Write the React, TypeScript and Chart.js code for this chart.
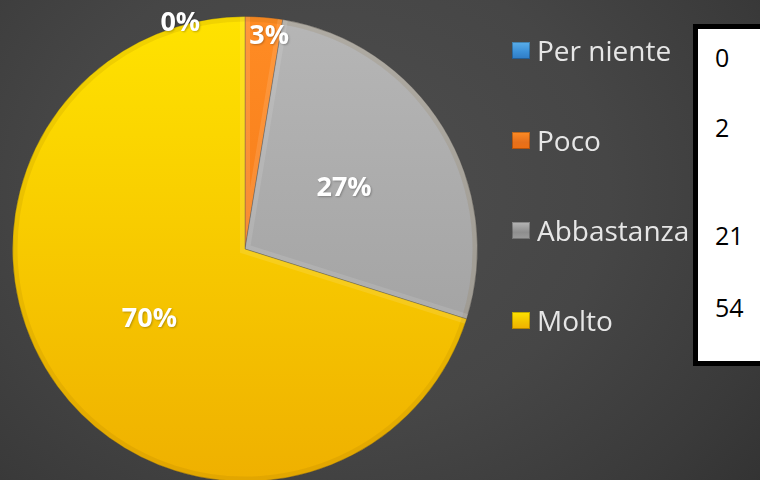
import React, { useEffect, useRef } from "react";
import { Chart, registerables } from "chart.js";

Chart.register(...registerables);

const categories = ["Per niente", "Poco", "Abbastanza", "Molto"];
const values = [0, 2, 21, 54];
const tableValues = ["0", "2", "21", "54"];

// styles
const topColors = ["#5AAEEA", "#FF8C24", "#B6B6B6", "#FFE300"];
const bottomColors = ["#2F7BC4", "#EE6F12", "#9B9B9B", "#EFB000"];
const legendColors = ["#3A8ED6", "#E5701C", "#8E8E8E", "#F2C200"];
const labelRadius = [1.01, 0.92, 0.5, 0.51];
const labelAngleShift = [-16, 1.8, 0, 0];

const percentLabels = {
  id: "percentLabels",
  afterDatasetsDraw(chart: any) {
    const ctx = chart.ctx;
    const meta = chart.getDatasetMeta(0);
    const data = chart.data.datasets[0].data as number[];
    const total = data.reduce((a, b) => a + b, 0);
    // bevel effect
    meta.data.forEach((arc: any) => {
      const { x, y, startAngle, endAngle, outerRadius } = arc.getProps(
        ["x", "y", "startAngle", "endAngle", "outerRadius"],
        true
      );
      if (endAngle - startAngle <= 0) return;
      ctx.save();
      ctx.beginPath();
      ctx.moveTo(x, y);
      ctx.arc(x, y, outerRadius, startAngle, endAngle);
      ctx.closePath();
      ctx.clip();
      ctx.beginPath();
      ctx.arc(x, y, outerRadius, startAngle, endAngle);
      ctx.lineWidth = 10;
      ctx.strokeStyle = "rgba(120,80,0,0.10)";
      ctx.stroke();
      ctx.beginPath();
      ctx.moveTo(x + Math.cos(startAngle) * outerRadius, y + Math.sin(startAngle) * outerRadius);
      ctx.lineTo(x, y);
      ctx.lineTo(x + Math.cos(endAngle) * outerRadius, y + Math.sin(endAngle) * outerRadius);
      ctx.lineWidth = 10;
      ctx.strokeStyle = "rgba(255,255,255,0.11)";
      ctx.stroke();
      ctx.restore();
    });
    ctx.save();
    ctx.font = "bold 27px 'Open Sans'";
    ctx.fillStyle = "#ffffff";
    ctx.textAlign = "center";
    ctx.textBaseline = "middle";
    meta.data.forEach((arc: any, i: number) => {
      const { x, y, startAngle, endAngle, outerRadius } = arc.getProps(
        ["x", "y", "startAngle", "endAngle", "outerRadius"],
        true
      );
      const mid = (startAngle + endAngle) / 2 + (labelAngleShift[i] * Math.PI) / 180;
      const r = outerRadius * labelRadius[i];
      const pct = Math.round((data[i] / total) * 100);
      ctx.shadowColor = "rgba(0,0,0,0.25)";
      ctx.shadowBlur = 2;
      ctx.shadowOffsetX = 1;
      ctx.shadowOffsetY = 1;
      ctx.fillText(pct + "%", x + Math.cos(mid) * r, y + Math.sin(mid) * r);
    });
    ctx.restore();
  },
};

export default function App() {
  const canvasRef = useRef<HTMLCanvasElement>(null);

  useEffect(() => {
    document.body.style.margin = "0";
    const canvas = canvasRef.current;
    if (!canvas) return;
    const grad = (c: any) => {
      const i = c.dataIndex ?? 0;
      const chart = c.chart;
      const area = chart.chartArea;
      if (!area) return topColors[i];
      const g = chart.ctx.createLinearGradient(0, area.top, 0, area.bottom);
      g.addColorStop(0, topColors[i]);
      g.addColorStop(1, bottomColors[i]);
      return g;
    };
    const chart = new Chart(canvas, {
      type: "pie",
      data: {
        labels: categories,
        datasets: [
          {
            data: values,
            backgroundColor: grad as any,
            borderColor: "rgba(60,60,60,0.35)",
            borderWidth: 1,
          },
        ],
      },
      options: {
        animation: false,
        responsive: false,
        layout: { padding: { left: 12, top: 16, right: 282, bottom: 18 } },
        plugins: {
          legend: { display: false },
          tooltip: { enabled: false },
        },
      },
      plugins: [percentLabels],
    });
    return () => chart.destroy();
  }, []);

  const legendY = [50, 140, 230, 320];
  const numberY = [57, 127, 235, 307];

  return (
    <div
      style={{
        position: "fixed",
        left: 0,
        top: 0,
        width: 760,
        height: 480,
        overflow: "hidden",
        background:
          "radial-gradient(ellipse 620px 520px at 330px 190px, #4e4e4e 0%, #464646 45%, #3a3a3a 75%, #2e2e2e 100%)",
        fontFamily: "'Open Sans', sans-serif",
      }}
    >
      <canvas
        ref={canvasRef}
        width={760}
        height={500}
        style={{ position: "absolute", left: 0, top: 0, width: 760, height: 500 }}
      />
      {categories.map((c, i) => (
        <div
          key={c}
          style={{
            position: "absolute",
            left: 512,
            top: legendY[i] - 20,
            height: 40,
            display: "flex",
            alignItems: "center",
            whiteSpace: "nowrap",
          }}
        >
          <div
            style={{
              width: 18,
              height: 17,
              background: `linear-gradient(180deg, ${topColors[i]} 0%, ${legendColors[i]} 60%, ${bottomColors[i]} 100%)`,
              boxShadow: "inset 0 0 0 1px rgba(0,0,0,0.25)",
              marginRight: 7,
            }}
          />
          <span style={{ fontSize: 28, color: "#e6e6e6", lineHeight: "40px" }}>{c}</span>
        </div>
      ))}
      <div
        style={{
          position: "absolute",
          left: 693,
          top: 24,
          width: 120,
          height: 342,
          boxSizing: "border-box",
          border: "5px solid #000",
          background: "#fff",
        }}
      />
      {tableValues.map((v, i) => (
        <div
          key={i}
          style={{
            position: "absolute",
            left: 715,
            top: numberY[i] - 18,
            height: 36,
            lineHeight: "36px",
            fontSize: 25,
            color: "#000",
          }}
        >
          {v}
        </div>
      ))}
    </div>
  );
}
